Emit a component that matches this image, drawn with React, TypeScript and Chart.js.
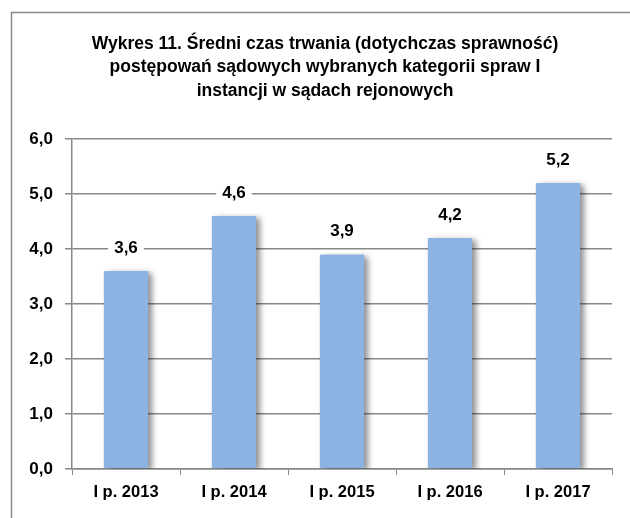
import React, { useEffect, useRef } from "react";
import { Chart, registerables } from "chart.js";

Chart.register(...registerables);

const categories = ["I p. 2013", "I p. 2014", "I p. 2015", "I p. 2016", "I p. 2017"];
const values = [3.6, 4.6, 3.9, 4.2, 5.2];
const titleLines = [
  "Wykres 11. Średni czas trwania (dotychczas sprawność)",
  "postępowań sądowych wybranych kategorii spraw I",
  "instancji w sądach rejonowych",
];
const yMin = 0;
const yMax = 6;
const yStep = 1;

const FONT = "'Liberation Sans', Arial, sans-serif";
const GRAY = "#888888";

const fmt = (v: number) => v.toFixed(1).replace(".", ",");

const framePlugin = {
  id: "frame",
  beforeDraw(chart: any) {
    const ctx = chart.ctx;
    ctx.save();
    ctx.fillStyle = "#ffffff";
    ctx.fillRect(0, 0, chart.width, chart.height);
    ctx.strokeStyle = GRAY;
    ctx.lineWidth = 1.5;
    ctx.beginPath();
    ctx.moveTo(11.5, chart.height + 5);
    ctx.lineTo(11.5, 12.5);
    ctx.lineTo(chart.width + 5, 12.5);
    ctx.stroke();
    // title
    ctx.fillStyle = "#000000";
    ctx.font = `bold 17.5px ${FONT}`;
    ctx.textAlign = "center";
    ctx.textBaseline = "middle";
    titleLines.forEach((line, i) => {
      ctx.fillText(line, 325, 44 + i * 23.5);
    });
    ctx.restore();
  },
};

const shadowPlugin = {
  id: "barShadow",
  beforeDatasetDraw(chart: any) {
    const ctx = chart.ctx;
    ctx.save();
    ctx.shadowColor = "rgba(0,0,0,0.45)";
    ctx.shadowOffsetX = 4;
    ctx.shadowOffsetY = 2;
    ctx.shadowBlur = 6;
  },
  afterDatasetDraw(chart: any) {
    chart.ctx.restore();
  },
};

const labelPlugin = {
  id: "valueLabels",
  afterDatasetsDraw(chart: any) {
    const ctx = chart.ctx;
    const meta = chart.getDatasetMeta(0);
    ctx.save();
    ctx.font = `bold 17px ${FONT}`;
    ctx.textAlign = "center";
    ctx.textBaseline = "middle";
    meta.data.forEach((bar: any, i: number) => {
      const txt = fmt(values[i]);
      const w = ctx.measureText(txt).width;
      const y = bar.y - 23;
      ctx.fillStyle = "#ffffff";
      ctx.fillRect(bar.x - w / 2 - 6, y - 9, w + 12, 18);
      ctx.fillStyle = "#000000";
      ctx.fillText(txt, bar.x, y);
    });
    ctx.restore();
  },
};

export default function App() {
  const ref = useRef<HTMLCanvasElement | null>(null);
  useEffect(() => {
    if (!ref.current) return;
    const chart = new Chart(ref.current, {
      type: "bar",
      data: {
        labels: categories,
        datasets: [
          {
            data: values,
            backgroundColor: "#8db3e2",
            borderWidth: 0,
            categoryPercentage: 1,
            barPercentage: 0.41,
          },
        ],
      },
      options: {
        animation: false,
        responsive: false,
        layout: { padding: { left: 0, right: 18, top: 139, bottom: 0 } },
        plugins: {
          legend: { display: false },
          tooltip: { enabled: false },
          title: { display: false },
        },
        scales: {
          x: {
            grid: {
              drawOnChartArea: false,
              drawTicks: true,
              tickLength: 6,
              color: GRAY,
              offset: true,
            },
            border: { color: GRAY, width: 1.5 },
            ticks: {
              color: "#000",
              font: { family: FONT, size: 16.5, weight: "bold" },
              padding: 8,
            },
            afterFit(scale: any) {
              scale.height = 49;
            },
          },
          y: {
            min: yMin,
            max: yMax,
            grid: { color: GRAY, lineWidth: 1.5, tickLength: 7 },
            border: { color: GRAY, width: 1.5 },
            ticks: {
              stepSize: yStep,
              color: "#000",
              font: { family: FONT, size: 17, weight: "bold" },
              padding: 12,
              callback: (v: any) => fmt(Number(v)),
            },
            afterFit(scale: any) {
              scale.width = 72;
            },
          },
        },
      },
      plugins: [framePlugin, shadowPlugin, labelPlugin],
    });
    return () => chart.destroy();
  }, []);
  return (
    <div style={{ position: "fixed", left: 0, top: 0, width: 630, height: 518 }}>
      <canvas ref={ref} width={630} height={518} style={{ width: 630, height: 518 }} />
    </div>
  );
}
